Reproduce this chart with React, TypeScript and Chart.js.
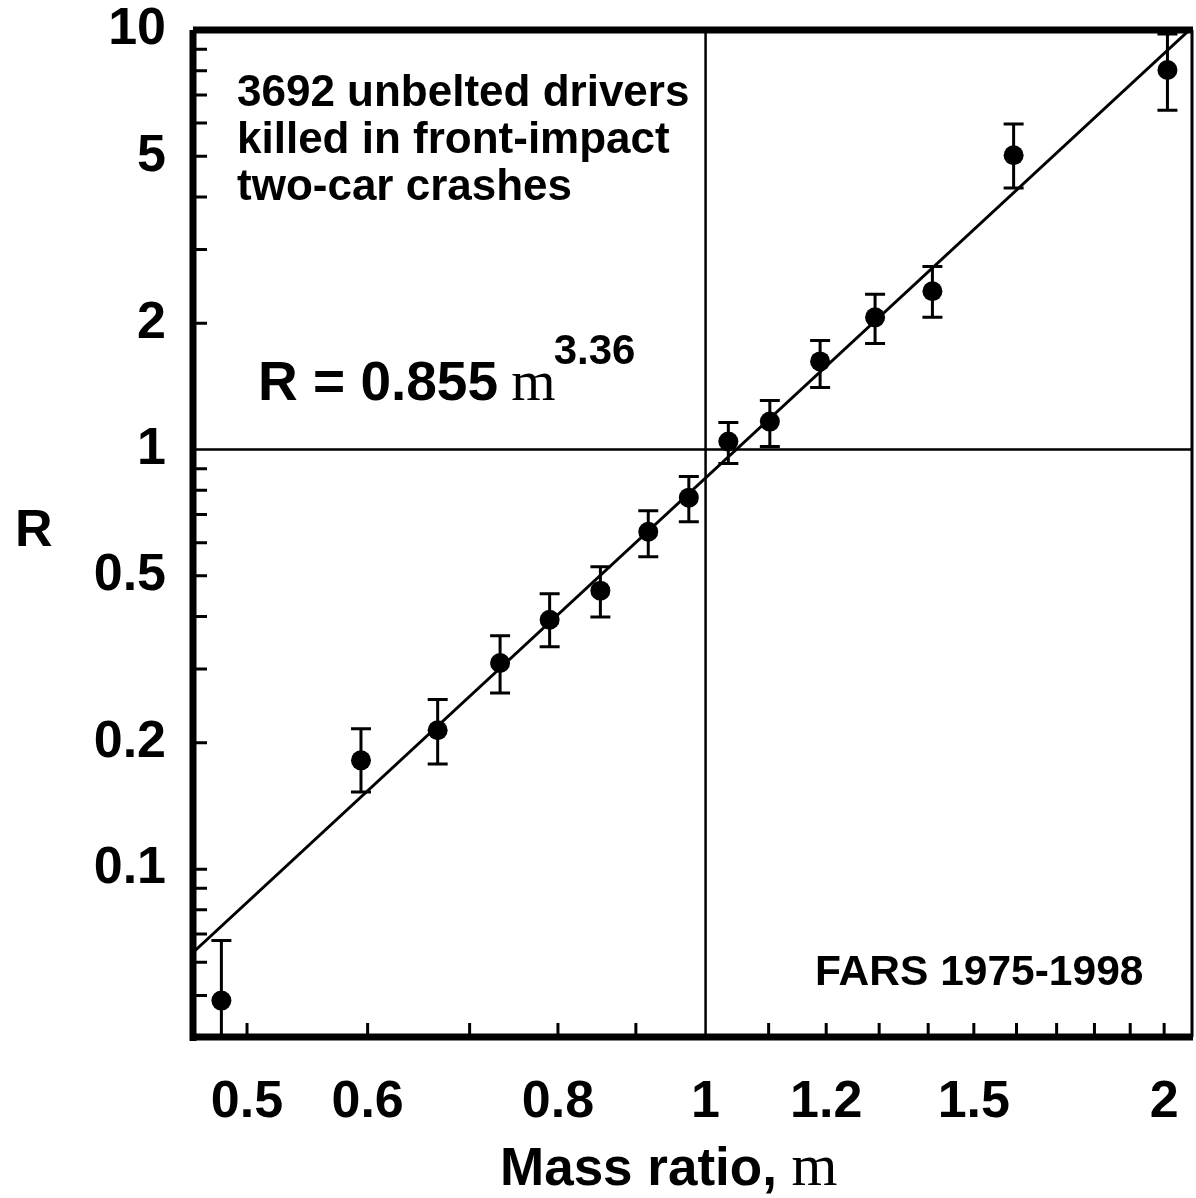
import { useEffect, useRef } from "react";
import { Chart, registerables } from "chart.js";

Chart.register(...registerables);

// ---- data ----
const massRatio = [0.481, 0.594, 0.667, 0.733, 0.790, 0.853, 0.917, 0.975, 1.035, 1.102, 1.189, 1.292, 1.409, 1.593, 2.01];
const riskRatio = [0.0486, 0.1817, 0.2143, 0.310, 0.393, 0.461, 0.637, 0.768, 1.045, 1.166, 1.622, 2.066, 2.384, 5.03, 8.03];
const riskUpper = [0.0676, 0.216, 0.2536, 0.360, 0.453, 0.526, 0.715, 0.862, 1.16, 1.309, 1.82, 2.344, 2.73, 5.97, 9.78];
const riskLower = [0.0348, 0.1527, 0.178, 0.263, 0.339, 0.399, 0.555, 0.673, 0.926, 1.017, 1.406, 1.79, 2.066, 4.2, 6.44];

// fitted line R = 0.855 m^3.36, endpoints as read where it meets the frame
const fitMass = [0.4608, 2.078];
const fitRisk = [0.0633, 10];

const xTickValues = [0.5, 0.6, 0.8, 1, 1.2, 1.5, 2];
const yTickValues = [0.1, 0.2, 0.5, 1, 2, 5, 10];
const xMinorTicks = [0.5, 0.6, 0.7, 0.8, 0.9, 1.1, 1.2, 1.3, 1.4, 1.5, 1.6, 1.7, 1.8, 1.9, 2.0];
const yMinorTicks = [0.05, 0.06, 0.07, 0.08, 0.09, 0.1, 0.2, 0.3, 0.4, 0.5, 0.6, 0.7, 0.8, 0.9, 2, 3, 4, 5, 6, 7, 8, 9];

const xMin = 0.4608;
const xMax = 2.086;
const yMin = 0.0398;
const yMax = 10;

const noteLines = ["3692 unbelted drivers", "killed in front-impact", "two-car crashes"];
const sourceText = "FARS 1975-1998";

const SANS = '"Liberation Sans", Arial, Helvetica, sans-serif';
const SERIF = '"Liberation Serif", "Times New Roman", serif';

const overlay = {
  id: "overlay",
  beforeDatasetsDraw(chart: any) {
    const { ctx, chartArea } = chart;
    const xs = chart.scales.x;
    const ys = chart.scales.y;
    ctx.save();
    ctx.strokeStyle = "#000";
    // reference lines at m = 1 and R = 1
    ctx.lineWidth = 2.5;
    const x1 = xs.getPixelForValue(1);
    const y1 = ys.getPixelForValue(1);
    ctx.beginPath();
    ctx.moveTo(x1, chartArea.top);
    ctx.lineTo(x1, chartArea.bottom);
    ctx.moveTo(chartArea.left, y1);
    ctx.lineTo(chartArea.right, y1);
    ctx.stroke();
    // error bars
    ctx.beginPath();
    ctx.rect(chartArea.left, chartArea.top, chartArea.right - chartArea.left, chartArea.bottom - chartArea.top);
    ctx.clip();
    ctx.lineWidth = 3;
    ctx.beginPath();
    for (let i = 0; i < massRatio.length; i++) {
      const px = xs.getPixelForValue(massRatio[i]);
      const pt = ys.getPixelForValue(riskUpper[i]);
      const pb = ys.getPixelForValue(riskLower[i]);
      ctx.moveTo(px, pt);
      ctx.lineTo(px, pb);
      ctx.moveTo(px - 10, pt);
      ctx.lineTo(px + 10, pt);
      ctx.moveTo(px - 10, pb);
      ctx.lineTo(px + 10, pb);
    }
    ctx.stroke();
    ctx.restore();
  },
  afterDraw(chart: any) {
    const { ctx, chartArea } = chart;
    const xs = chart.scales.x;
    const ys = chart.scales.y;
    const { left, right, top, bottom } = chartArea;
    ctx.save();
    ctx.strokeStyle = "#000";
    ctx.lineCap = "butt";
    // minor ticks (inward)
    ctx.lineWidth = 3;
    ctx.beginPath();
    for (const v of yMinorTicks) {
      const py = ys.getPixelForValue(v);
      ctx.moveTo(left, py);
      ctx.lineTo(left + 14, py);
    }
    for (const v of xMinorTicks) {
      const px = xs.getPixelForValue(v);
      ctx.moveTo(px, bottom);
      ctx.lineTo(px, bottom - 14);
    }
    ctx.stroke();
    // frame
    ctx.lineWidth = 7;
    ctx.beginPath();
    ctx.moveTo(left, top);
    ctx.lineTo(right + 1, top);
    ctx.moveTo(left, top);
    ctx.lineTo(left, bottom + 4);
    ctx.moveTo(left, bottom);
    ctx.lineTo(right + 1, bottom);
    ctx.stroke();
    ctx.lineWidth = 3;
    ctx.beginPath();
    ctx.moveTo(right, top);
    ctx.lineTo(right, bottom);
    ctx.stroke();

    // texts
    ctx.fillStyle = "#000";
    ctx.textAlign = "left";
    ctx.textBaseline = "alphabetic";
    ctx.font = `bold 44px ${SANS}`;
    noteLines.forEach((t, i) => ctx.fillText(t, 237, 106 + i * 47));

    ctx.font = `bold 55px ${SANS}`;
    const eq = "R = 0.855 ";
    ctx.fillText(eq, 258, 400);
    let ex = 258 + ctx.measureText(eq).width - 2;
    ctx.font = `57px ${SERIF}`;
    ctx.fillText("m", ex, 400);
    ex += ctx.measureText("m").width - 2;
    ctx.font = `bold 42px ${SANS}`;
    ctx.fillText("3.36", ex, 364);

    ctx.font = `bold 42.5px ${SANS}`;
    ctx.fillText(sourceText, 815, 985);

    // axis titles
    ctx.font = `bold 53px ${SANS}`;
    const xt = "Mass ratio, ";
    ctx.fillText(xt, 500, 1185);
    const xtw = ctx.measureText(xt).width;
    ctx.font = `59px ${SERIF}`;
    ctx.fillText("m", 500 + xtw, 1185);

    ctx.font = `bold 52px ${SANS}`;
    ctx.fillText("R", 15, 546);
    ctx.restore();
  },
};

const zeroPad = (s: any) => {
  s.paddingLeft = 0;
  s.paddingRight = 0;
  s.paddingTop = 0;
  s.paddingBottom = 0;
};

export default function App() {
  const ref = useRef<HTMLCanvasElement>(null);
  useEffect(() => {
    document.body.style.margin = "0";
    const canvas = ref.current!;
    const tickFont = { family: SANS, size: 52, weight: "bold" as const, lineHeight: 1 };
    const chart = new Chart(canvas, {
      type: "scatter",
      data: {
        datasets: [
          {
            type: "line",
            data: fitMass.map((x, i) => ({ x, y: fitRisk[i] })),
            borderColor: "#000",
            borderWidth: 3,
            pointRadius: 0,
            fill: false,
            order: 2,
          } as any,
          {
            type: "scatter",
            data: massRatio.map((x, i) => ({ x, y: riskRatio[i] })),
            pointRadius: 10,
            pointBackgroundColor: "#000",
            pointBorderWidth: 0,
            order: 1,
          } as any,
        ],
      },
      options: {
        responsive: false,
        animation: false,
        devicePixelRatio: 1,
        events: [],
        layout: { autoPadding: false, padding: { top: 30, right: 4, left: 0, bottom: 0 } },
        plugins: { legend: { display: false }, tooltip: { enabled: false } },
        scales: {
          x: {
            type: "logarithmic",
            min: xMin,
            max: xMax,
            bounds: "data",
            grid: { display: false },
            border: { display: false },
            afterBuildTicks: (s: any) => {
              s.ticks = xTickValues.map((v) => ({ value: v }));
            },
            afterFit: (s: any) => {
              s.height = 161;
              zeroPad(s);
            },
            ticks: {
              autoSkip: false,
              maxRotation: 0,
              minRotation: 0,
              padding: 32,
              color: "#000",
              font: tickFont,
              callback: (v: any) => String(v),
            },
          },
          y: {
            type: "logarithmic",
            min: yMin,
            max: yMax,
            bounds: "data",
            grid: { display: false },
            border: { display: false },
            afterBuildTicks: (s: any) => {
              s.ticks = yTickValues.map((v) => ({ value: v }));
            },
            afterFit: (s: any) => {
              s.width = 193;
              zeroPad(s);
            },
            ticks: {
              autoSkip: false,
              padding: 19,
              color: "#000",
              font: tickFont,
              callback: (v: any) => String(v),
            },
          },
        },
      },
      plugins: [overlay],
    });
    return () => chart.destroy();
  }, []);
  return <canvas ref={ref} width={1196} height={1198} style={{ display: "block" }} />;
}
